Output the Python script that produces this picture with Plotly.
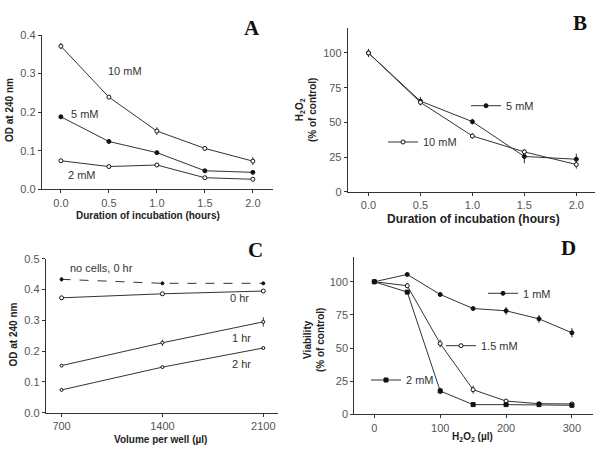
import plotly.graph_objects as go

W, H = 600, 450

# ---------------- data ----------------
# Panel A
a_x = [0.0, 0.5, 1.0, 1.5, 2.0]
a_10mM = [0.371, 0.239, 0.151, 0.106, 0.073]
a_10mM_err = [0.008, 0.003, 0.010, 0.006, 0.010]
a_5mM = [0.188, 0.124, 0.095, 0.048, 0.044]
a_5mM_err = [0.004, 0.003, 0.003, 0.004, 0.004]
a_2mM = [0.074, 0.059, 0.063, 0.030, 0.026]
a_2mM_err = [0.003, 0.003, 0.003, 0.003, 0.003]

# Panel B
b_x = [0.0, 0.5, 1.0, 1.5, 2.0]
b_5mM = [100, 65.3, 50.5, 25.4, 23.4]
b_5mM_err = [3, 3, 2, 5, 4]
b_10mM = [100, 64.4, 40.2, 28.7, 19.6]
b_10mM_err = [2, 2, 2, 2, 3]

# Panel C
c_x = [700, 1400, 2100]
c_nocells = [0.433, 0.420, 0.420]
c_nocells_err = [0.007, 0.003, 0.003]
c_0hr = [0.373, 0.386, 0.395]
c_0hr_err = [0.005, 0.005, 0.006]
c_1hr = [0.153, 0.227, 0.295]
c_1hr_err = [0.005, 0.010, 0.015]
c_2hr = [0.074, 0.148, 0.210]
c_2hr_err = [0.004, 0.004, 0.005]

# Panel D
d_x = [0, 50, 100, 150, 200, 250, 300]
d_1mM = [100, 105.5, 90.4, 79.8, 78.1, 72.0, 61.5]
d_1mM_err = [1, 1, 1.5, 1, 3, 3, 3.5]
d_15mM = [100, 97, 53.4, 18.6, 10, 8, 7.8]
d_15mM_err = [1, 2, 3, 3, 1, 1, 1]
d_2mM = [100, 92.2, 17.6, 7.3, 7.3, 7.3, 6.8]
d_2mM_err = [1, 1.5, 2.5, 1, 1, 1, 1]

# ---------------- styling helpers ----------------
LINE = "#333333"
SANS = "Liberation Sans, Arial, sans-serif"
TICKFONT = dict(family=SANS, size=11, color="#555555")
LABFONT = dict(family=SANS, size=11, color="#333333")
TITLEFONT = dict(family=SANS, size=10, color="#222222")


def px(x):
    return x / W


def py(y):
    return 1 - y / H


def marker(kind, size=4):
    if kind == "filled":
        return dict(symbol="circle", size=size, color="#111111", line=dict(color="#111111", width=1))
    if kind == "square":
        return dict(symbol="square", size=size, color="#111111", line=dict(color="#111111", width=1))
    return dict(symbol="circle", size=size, color="white", line=dict(color="#111111", width=1))


fig = go.Figure()


def add(x, y, err, xa, ya, kind, name=None, legend=None, dash="solid", size=4):
    fig.add_trace(go.Scatter(
        x=x, y=y, xaxis=xa, yaxis=ya, mode="lines+markers",
        line=dict(color=LINE, width=1, dash=dash),
        marker=marker(kind, size),
        error_y=dict(type="data", array=err, visible=True, color=LINE, thickness=1, width=0),
        cliponaxis=False,
        hoverinfo="skip",
        name=name if name else "",
        showlegend=legend is not None,
        legend=legend if legend else "legend",
    ))


# Panel A
add(a_x, a_10mM, a_10mM_err, "x", "y", "open")
add(a_x, a_5mM, a_5mM_err, "x", "y", "filled")
add(a_x, a_2mM, a_2mM_err, "x", "y", "open")

# Panel B
add(b_x, b_5mM, b_5mM_err, "x2", "y2", "filled", "5 mM", "legend")
add(b_x, b_10mM, b_10mM_err, "x2", "y2", "open", "10 mM", "legend2")

# Panel C
add(c_x, c_nocells, c_nocells_err, "x3", "y3", "filled", dash="dash", size=3)
add(c_x, c_0hr, c_0hr_err, "x3", "y3", "open")
add(c_x, c_1hr, c_1hr_err, "x3", "y3", "open", size=3)
add(c_x, c_2hr, c_2hr_err, "x3", "y3", "open", size=3)

# Panel D
add(d_x, d_1mM, d_1mM_err, "x4", "y4", "filled", "1 mM", "legend3")
add(d_x, d_15mM, d_15mM_err, "x4", "y4", "open", "1.5 mM", "legend4")
add(d_x, d_2mM, d_2mM_err, "x4", "y4", "square", "2 mM", "legend5")


def ax(domain, rng, tickvals, anchor, fmt=None):
    d = dict(domain=domain, range=rng, tickvals=tickvals, anchor=anchor, showline=True,
             linecolor=LINE, linewidth=1, ticks="outside", ticklen=3, tickcolor=LINE,
             showgrid=False, zeroline=False, tickfont=TICKFONT, automargin=False, fixedrange=True)
    if fmt:
        d["tickformat"] = fmt
    return d


def legend_at(x, y):
    return dict(x=px(x), y=py(y), xanchor="left", yanchor="middle", bgcolor="rgba(0,0,0,0)",
                font=LABFONT, borderwidth=0, itemwidth=30, tracegroupgap=0)


fig.update_layout(
    width=W, height=H, margin=dict(l=0, r=0, t=0, b=0),
    paper_bgcolor="white", plot_bgcolor="white",
    xaxis=ax([px(41.7), px(273)], [-0.2, 2.21], [0, 0.5, 1.0, 1.5, 2.0], "y", ".1f"),
    yaxis=ax([py(189.3), py(35)], [0, 0.4], [0, 0.1, 0.2, 0.3, 0.4], "x", ".1f"),
    xaxis2=ax([px(347.7), px(595)], [-0.2, 2.18], [0, 0.5, 1.0, 1.5, 2.0], "y2", ".1f"),
    yaxis2=ax([py(191.7), py(28.3)], [0, 117.8], [0, 25, 50, 75, 100], "x2"),
    xaxis3=ax([px(45.7), px(278.3)], [590, 2204], [700, 1400, 2100], "y3"),
    yaxis3=ax([py(412.7), py(258.7)], [0, 0.5], [0, 0.1, 0.2, 0.3, 0.4, 0.5], "x3", ".1f"),
    xaxis4=ax([px(354.3), px(593)], [-30.4, 332], [0, 100, 200, 300], "y4"),
    yaxis4=ax([py(414.3), py(256.7)], [0, 118.9], [0, 25, 50, 75, 100], "x4"),
    legend=legend_at(466, 105.7),
    legend2=legend_at(383, 142),
    legend3=legend_at(483, 293.3),
    legend4=legend_at(441, 345.7),
    legend5=legend_at(366, 380),
    hovermode=False,
)

ann = []


def text(x, y, t, font, angle=0, xanchor="center"):
    ann.append(dict(x=px(x), y=py(y), xref="paper", yref="paper", text=t, showarrow=False,
                    font=font, textangle=angle, xanchor=xanchor, yanchor="middle"))


LETTER = dict(family="Liberation Serif, Times New Roman, serif", size=21, color="#111111", weight="bold")
text(252, 28, "A", LETTER)
text(580, 23, "B", LETTER)
text(255, 250, "C", LETTER)
text(568, 248, "D", LETTER)

BOLD = dict(TITLEFONT, weight="bold")
# axis titles
text(148, 215, "Duration of incubation (hours)", BOLD)
text(473, 219, "Duration of incubation (hours)", dict(BOLD, size=12))
text(160, 439, "Volume per well (\u00b5l)", BOLD)
text(472, 437, "H<sub>2</sub>O<sub>2</sub> (\u00b5l)", BOLD)
text(9, 110, "OD at 240 nm", BOLD, -90)
text(12.5, 335, "OD at 240 nm", BOLD, -90)
text(306, 110, "H<sub>2</sub>O<sub>2</sub><br>(% of control)", BOLD, -90)
text(314, 340, "Viability<br>(% of control)", BOLD, -90)

# series labels
text(106, 71, "10 mM", LABFONT, xanchor="left")
text(69, 114, "5 mM", LABFONT, xanchor="left")
text(66, 175, "2 mM", LABFONT, xanchor="left")
text(68, 268, "no cells, 0 hr", LABFONT, xanchor="left")
text(228, 298, "0 hr", LABFONT, xanchor="left")
text(230, 338, "1 hr", LABFONT, xanchor="left")
text(230, 364, "2 hr", LABFONT, xanchor="left")

fig.update_layout(annotations=ann)

# remove the default 8px page margin so the 600x450 figure fills the window exactly
fig.write_html("out.html", config={"displayModeBar": False},
               post_script="document.body.style.margin='0';")
